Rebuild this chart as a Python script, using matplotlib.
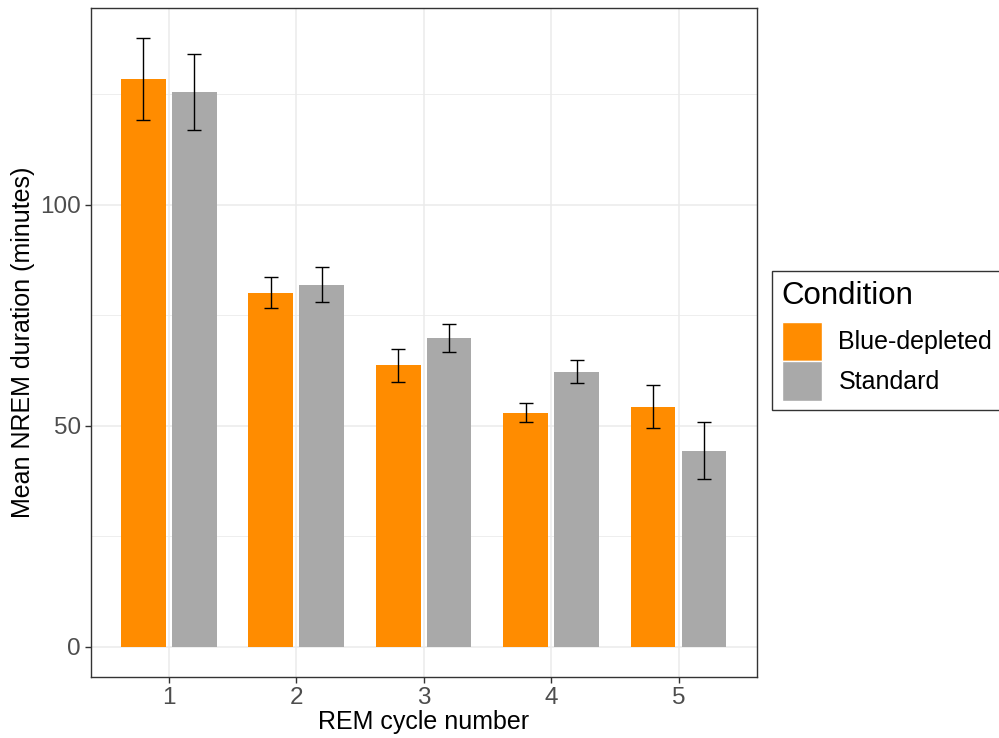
import matplotlib
matplotlib.use("Agg")
import matplotlib.pyplot as plt
from matplotlib.patches import Patch
import numpy as np

plt.rcParams['font.family'] = ['Liberation Sans', 'DejaVu Sans']

cycles = [1, 2, 3, 4, 5]
conditions = ["Blue-depleted", "Standard"]
colors = ["#FF8C00", "#A9A9A9"]

mean_blue = [128.4, 80.1, 63.6, 52.9, 54.3]
se_blue = [9.2, 3.5, 3.8, 2.1, 4.8]
mean_std = [125.6, 81.9, 69.8, 62.2, 44.3]
se_std = [8.6, 3.9, 3.2, 2.6, 6.5]

y_ticks = [0, 50, 100]
y_minor = [25, 75, 125]

fig = plt.figure(figsize=(9.99, 7.38), dpi=100)
ax = fig.add_axes([90.7 / 999, 1 - 677 / 738, 666 / 999, 669 / 738])

x = np.array(cycles, dtype=float)
dodge = 0.2
width = 0.35
series = [(mean_blue, se_blue), (mean_std, se_std)]
for i, (m, se) in enumerate(series):
    xs = x + (i * 2 - 1) * dodge
    ax.bar(xs, m, width=width, color=colors[i], zorder=2, linewidth=0)
    ax.errorbar(xs, m, yerr=se, fmt='none', ecolor='black', elinewidth=1.0,
                capsize=4.7, capthick=1.0, zorder=3)

ax.set_xlim(0.3875, 5.6125)
ax.set_ylim(-6.9, 144.5)
ax.set_xticks(cycles)
ax.set_xticklabels([str(c) for c in cycles])
ax.set_yticks(y_ticks)
ax.set_yticks(y_minor, minor=True)

ax.grid(True, which='major', color='#EBEBEB', linewidth=1.1, zorder=0)
ax.grid(True, which='minor', axis='y', color='#EBEBEB', linewidth=0.6, zorder=0)
ax.set_axisbelow(True)

for s in ax.spines.values():
    s.set_color('#333333')
    s.set_linewidth(1.0)

ax.tick_params(axis='both', which='major', labelsize=17.5, labelcolor='#4D4D4D',
               color='#333333', length=4, width=1.0, pad=3)
ax.tick_params(axis='y', which='minor', length=0)

ax.set_xlabel("REM cycle number", fontsize=18, labelpad=1)
ax.set_ylabel("Mean NREM duration (minutes)", fontsize=18, labelpad=4)

handles = [Patch(facecolor=c, edgecolor='white', linewidth=1) for c in colors]
leg = fig.legend(handles, conditions, title="Condition",
                 loc='upper left', bbox_to_anchor=(772 / 999, 1 - 271 / 738),
                 fontsize=18, title_fontsize=22.5, frameon=True, fancybox=False,
                 edgecolor='black', handlelength=1.6, handleheight=2.06,
                 handletextpad=0.68, labelspacing=0.0, borderpad=0.38,
                 borderaxespad=0)
leg.get_frame().set_linewidth(1.0)
leg._legend_box.align = "left"
leg._legend_box.sep = 8

fig.savefig("out.png", dpi=100)
